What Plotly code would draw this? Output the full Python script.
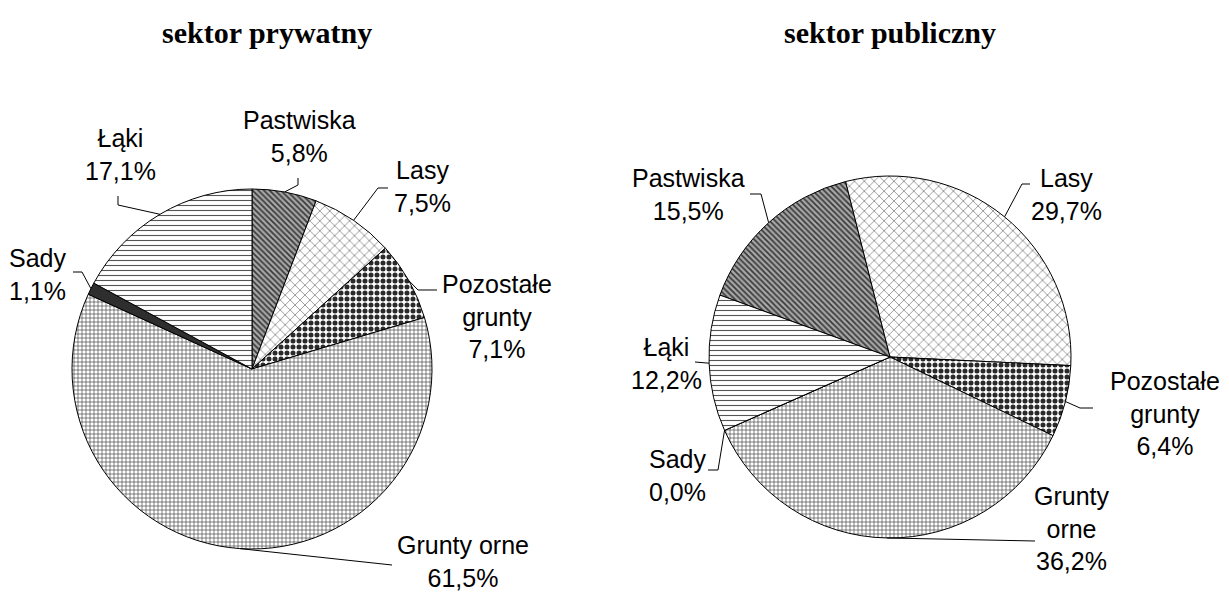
import math
import plotly.graph_objects as go

# ---------------- data ----------------
categories = ["Pastwiska", "Lasy", "Pozostałe grunty", "Grunty orne", "Sady", "Łąki"]
private_values = [5.8, 7.5, 7.1, 61.5, 1.1, 17.1]
public_values = [15.5, 29.7, 6.4, 36.2, 0.0, 12.2]
private_names = ["Pastwiska", "Lasy", "Pozostałe<br>grunty", "Grunty orne", "Sady", "Łąki"]
public_names = ["Pastwiska", "Lasy", "Pozostałe<br>grunty", "Grunty<br>orne", "Sady", "Łąki"]
titles = ["sektor prywatny", "sektor publiczny"]

# ---------------- styles ----------------
W, H = 1229, 592
OFF = 8  # page body margin
pattern_shapes = ["\\", "x", ".", "+", "", "-"]
pattern_bg = ["#a8a8a8", "#ffffff", "#ffffff", "#ffffff", "#2e2e2e", "#ffffff"]
pattern_fg = ["#3a3a3a", "#6a6a6a", "#2a2a2a", "#404040", "#2e2e2e", "#555555"]
pattern_size = [4, 7, 6, 4, 6, 5]
pattern_solid = [0.45, 0.18, 0.55, 0.3, 0.3, 0.22]

pies = [
    dict(values=private_values, names=private_names, cx=252, cy=369, r=180, rot=0, title_x=267,
         label_pos=[(299, 137), (422, 186), (497, 316), (463, 561), (37, 274), (120, 154)],
         leaders=[[(298, 178), (298, 185)], [(388, 188), (378, 188)], [(437, 290), (418, 290)],
                  [(392, 565)], [(73, 272), (82, 272)], [(118, 196), (118, 205)]]),
    dict(values=public_values, names=public_names, cx=890, cy=357, r=181, rot=-70, title_x=890,
         label_pos=[(688, 194), (1066, 194), (1165, 413), (1072, 528), (677, 475), (666, 363)],
         leaders=[[(750, 194), (761, 194)], [(1030, 184), (1022, 184)], [(1093, 408), (1080, 408)],
                  [(1035, 541)], [(708, 470), (718, 470)], [(695, 362)]]),
]


def px(x, y):
    return (x - OFF) / W, 1 - (y - OFF) / H


def fmt(v):
    return f"{v:.1f}".replace(".", ",") + "%"


fig = go.Figure()
annotations = []
shapes = []

for p, title in zip(pies, titles):
    cx, cy, r = p["cx"], p["cy"], p["r"]
    x0, y1 = px(cx - r, cy - r)
    x1, y0 = px(cx + r, cy + r)
    fig.add_trace(go.Pie(
        labels=categories, values=p["values"], sort=False, direction="clockwise",
        rotation=p["rot"], textinfo="none", hoverinfo="label+percent", showlegend=False,
        domain=dict(x=[x0, x1], y=[y0, y1]),
        marker=dict(
            colors=pattern_bg,
            line=dict(color="#000000", width=1),
            pattern=dict(shape=pattern_shapes, bgcolor=pattern_bg, fgcolor=pattern_fg,
                         size=pattern_size, solidity=pattern_solid, fillmode="replace"),
        ),
    ))
    tx, ty = px(p["title_x"], 32)
    annotations.append(dict(x=tx, y=ty, xref="paper", yref="paper", text=f"<b>{title}</b>",
                            showarrow=False, xanchor="center", yanchor="middle",
                            font=dict(family="Liberation Serif, Times New Roman, serif", size=30, color="#000")))
    total = sum(p["values"])
    cum = 0.0
    for i, v in enumerate(p["values"]):
        mid = p["rot"] + 360.0 * (cum + v / 2) / total
        cum += v
        a = math.radians(mid)
        ex, ey = cx + r * math.sin(a), cy - r * math.cos(a)
        pts = p["leaders"][i] + [(ex, ey)]
        path = ""
        for k, (x, y) in enumerate(pts):
            fx, fy = px(x, y)
            path += ("M" if k == 0 else " L") + f" {fx:.5f},{fy:.5f}"
        shapes.append(dict(type="path", path=path, xref="paper", yref="paper",
                           line=dict(color="#000", width=1)))
        lx, ly = px(*p["label_pos"][i])
        annotations.append(dict(x=lx, y=ly, xref="paper", yref="paper",
                                text=f"{p['names'][i]}<br>{fmt(v)}", showarrow=False,
                                xanchor="center", yanchor="middle", align="center",
                                font=dict(family="Liberation Sans, Arial, sans-serif", size=25, color="#000")))

fig.update_layout(width=W, height=H, margin=dict(l=0, r=0, t=0, b=0),
                  paper_bgcolor="#ffffff", plot_bgcolor="#ffffff",
                  annotations=annotations, shapes=shapes)
fig.write_html("out.html")
